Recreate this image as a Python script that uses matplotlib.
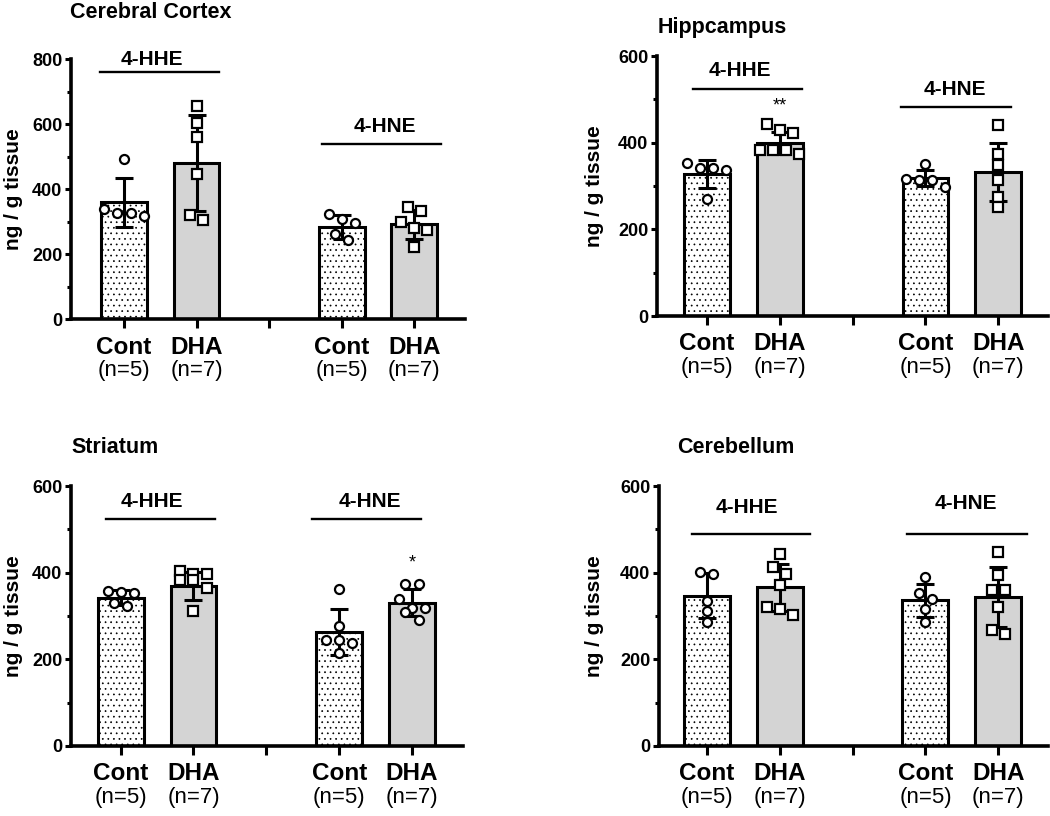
import numpy as np
import matplotlib
matplotlib.use('Agg')
import matplotlib.pyplot as plt
from matplotlib.ticker import MultipleLocator

plt.rcParams['font.family'] = ['Liberation Sans', 'DejaVu Sans']
plt.rcParams['hatch.linewidth'] = 0.5

# ---- data ----
regions = ['Cerebral Cortex', 'Hippcampus', 'Striatum', 'Cerebellum']
groups = ['4-HHE', '4-HNE']
conditions = ['Cont', 'DHA']
n_labels = ['(n=5)', '(n=7)']
y_max = [800, 600, 600, 600]

# bar order in each panel: Cont 4-HHE, DHA 4-HHE, Cont 4-HNE, DHA 4-HNE
means = [
    [360, 482, 284, 292],
    [328, 400, 318, 333],
    [342, 370, 263, 331],
    [347, 366, 336, 344],
]
sds = [
    [75, 148, 36, 44],
    [33, 25, 18, 67],
    [17, 32, 53, 32],
    [52, 54, 38, 70],
]

cortex_pts = [
    [492, 338, 326, 326, 318],
    [656, 605, 562, 446, 321, 306],
    [324, 308, 297, 262, 244],
    [345, 334, 300, 280, 275, 224],
]
hippo_pts = [
    [354, 341, 341, 338, 271],
    [443, 429, 423, 383, 383, 383, 375],
    [352, 316, 314, 314, 297],
    [441, 375, 348, 314, 275, 252],
]
striatum_pts = [
    [358, 355, 352, 330, 322],
    [405, 397, 397, 383, 383, 365, 311],
    [362, 278, 245, 245, 237, 215],
    [374, 374, 339, 318, 318, 310, 291],
]
cerebellum_pts = [
    [402, 397, 335, 312, 285],
    [444, 412, 397, 371, 321, 315, 302],
    [391, 352, 339, 315, 287],
    [448, 394, 361, 361, 321, 268, 258],
]
points = [cortex_pts, hippo_pts, striatum_pts, cerebellum_pts]

sig_marks = [
    ['', '', '', ''],
    ['', '**', '', ''],
    ['', '', '', '*'],
    ['', '', '', ''],
]

# ---- layout / style ----
W, H = 1050, 816
bar_x = [0, 1, 3, 4]
ax_rects = [
    [0.0673, 0.6087, 0.3756, 0.3186],
    [0.6254, 0.6127, 0.3727, 0.3186],
    [0.0673, 0.0858, 0.3737, 0.3186],
    [0.6273, 0.0858, 0.3707, 0.3186],
]
x_lims = [(-0.735, 4.70), (-0.686, 4.68), (-0.686, 4.70), (-0.66, 4.68)]
title_px = [(70, 12), (658, 28), (71, 447), (677, 447)]
ylabel_x = [-0.146, -0.158, -0.146, -0.164]
line_y = [(762, 540), (525, 483), (523, 523), (489, 489)]
text_y = [(798, 593), (567, 523), (564, 564), (551, 560)]
line_x = [[(-0.33, 1.31), (2.73, 4.37)],
          [(-0.19, 1.30), (2.67, 4.17)],
          [(-0.20, 1.30), (2.62, 4.12)],
          [(-0.20, 1.42), (2.75, 4.39)]]
text_x = [(0.38, 3.6), (0.46, 3.4), (0.43, 3.42), (0.55, 3.56)]


def swarm(vals, thr, step=0.18):
    vals = np.asarray(vals, dtype=float)
    order = np.argsort(-vals, kind='stable')
    clusters = []
    for i in order:
        if clusters and vals[clusters[-1][0]] - vals[i] < thr:
            clusters[-1].append(i)
        else:
            clusters.append([i])
    xs = np.zeros(len(vals))
    for c in clusters:
        k = len(c)
        for j, i in enumerate(c):
            xs[i] = (j - (k - 1) / 2) * step
    return xs


fig = plt.figure(figsize=(W / 100, H / 100), dpi=100)

for p in range(4):
    ax = fig.add_axes(ax_rects[p])
    ym = y_max[p]
    for b in range(4):
        x = bar_x[b]
        is_cont = b % 2 == 0
        ax.bar(x, means[p][b], width=0.63,
               color='white' if is_cont else '#d4d4d4',
               edgecolor='black', linewidth=2.2,
               hatch='...' if is_cont else None, zorder=2)
        ax.errorbar(x, means[p][b], yerr=sds[p][b], fmt='none', ecolor='black',
                    elinewidth=2.2, capsize=6.5, capthick=2.2, zorder=3)
        vals = points[p][b]
        xs = x + swarm(vals, 0.035 * ym)
        ax.plot(xs, vals, linestyle='none',
                marker='o' if (is_cont or p == 2 and b == 3) else 's',
                markersize=6.5, markerfacecolor='white', markeredgecolor='black',
                markeredgewidth=1.6, zorder=4, clip_on=False)
        if sig_marks[p][b]:
            ax.text(x, means[p][b] + sds[p][b] + 0.1 * ym, sig_marks[p][b],
                    ha='center', va='center', fontsize=13)
        # category labels under the axis
        ax.annotate(conditions[b % 2], xy=(x, 0), xycoords=('data', 'axes fraction'),
                    xytext=(0, -20), textcoords='offset points',
                    ha='center', va='center', fontsize=17.5, fontweight='bold')
        ax.annotate(n_labels[b % 2], xy=(x, 0), xycoords=('data', 'axes fraction'),
                    xytext=(0, -37), textcoords='offset points',
                    ha='center', va='center', fontsize=16)

    for g in range(2):
        x0, x1 = line_x[p][g]
        ax.plot([x0, x1], [line_y[p][g]] * 2, color='black', linewidth=1.7,
                clip_on=False)
        ax.text(text_x[p][g], text_y[p][g], groups[g], ha='center', va='center',
                fontsize=15, fontweight='bold')

    ax.set_xlim(*x_lims[p])
    ax.set_ylim(0, ym)
    ax.set_xticks([0, 1, 2, 3, 4])
    ax.set_xticklabels([])
    ax.yaxis.set_major_locator(MultipleLocator(200))
    ax.yaxis.set_minor_locator(MultipleLocator(100))
    for s in ['top', 'right']:
        ax.spines[s].set_visible(False)
    for s in ['left', 'bottom']:
        ax.spines[s].set_linewidth(2.6)
    ax.tick_params(axis='x', length=6.5, width=2.2, direction='out')
    ax.tick_params(axis='y', which='major', length=4, width=2.2, pad=2)
    ax.tick_params(axis='y', which='minor', length=3, width=2.2)
    for lab in ax.get_yticklabels():
        lab.set_fontsize(13)
        lab.set_fontweight('bold')
    ax.set_ylabel('ng / g tissue', fontsize=15, fontweight='bold', va='center')
    ax.yaxis.set_label_coords(ylabel_x[p], 0.5)

    tx, ty = title_px[p]
    fig.text(tx / W, 1 - ty / H, regions[p], ha='left', va='center',
             fontsize=15.5, fontweight='bold')

fig.savefig('out.png', dpi=100)
